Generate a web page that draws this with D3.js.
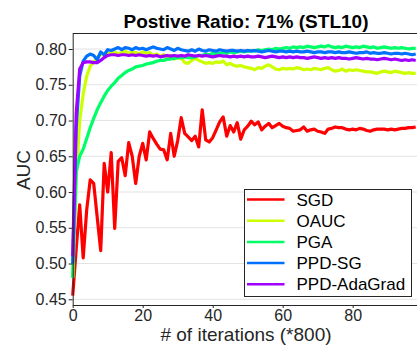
<!DOCTYPE html>
<html>
<head>
<meta charset="utf-8">
<script src="https://cdn.jsdelivr.net/npm/d3@7"></script>
<style>
  body { margin: 0; background: #fff; }
  svg { display: block; font-family: "Liberation Sans", Arial, sans-serif; }
</style>
</head>
<body>
<svg id="chart" width="417" height="347"></svg>
<script>
// values, one per iteration step (x = 0..98)
var sgd = [0.455,0.520,0.582,0.508,0.575,0.617,0.612,0.565,0.518,0.640,
  0.600,0.655,0.549,0.643,0.648,0.623,0.669,0.650,0.612,0.650,
  0.668,0.645,0.684,0.675,0.667,0.660,0.659,0.645,0.682,0.650,
  0.672,0.704,0.682,0.677,0.672,0.678,0.663,0.715,0.673,0.670,
  0.676,0.687,0.698,0.705,0.678,0.693,0.684,0.697,0.674,0.687,
  0.692,0.699,0.694,0.698,0.687,0.692,0.696,0.690,0.693,0.696,
  0.692,0.690,0.689,0.685,0.686,0.687,0.691,0.685,0.687,0.688,
  0.685,0.684,0.682,0.688,0.689,0.691,0.690,0.690,0.688,0.687,
  0.688,0.687,0.689,0.688,0.686,0.685,0.687,0.688,0.688,0.688,
  0.687,0.688,0.687,0.688,0.689,0.689,0.690,0.690,0.691];

var oauc = [0.480,0.620,0.700,0.737,0.762,0.776,0.782,0.788,0.793,0.791,
  0.795,0.794,0.796,0.793,0.795,0.797,0.794,0.796,0.795,0.793,
  0.796,0.794,0.795,0.791,0.793,0.790,0.792,0.789,0.791,0.786,
  0.788,0.787,0.781,0.780,0.784,0.787,0.784,0.782,0.780,0.781,
  0.780,0.782,0.781,0.783,0.778,0.780,0.777,0.776,0.777,0.775,
  0.774,0.773,0.771,0.774,0.773,0.776,0.778,0.775,0.772,0.771,
  0.773,0.772,0.773,0.772,0.774,0.773,0.771,0.772,0.771,0.773,
  0.772,0.771,0.773,0.774,0.771,0.769,0.770,0.772,0.769,0.771,
  0.770,0.771,0.770,0.769,0.768,0.768,0.767,0.766,0.768,0.769,
  0.768,0.767,0.769,0.768,0.767,0.766,0.767,0.766,0.766];

var pga = [0.480,0.628,0.650,0.660,0.675,0.690,0.703,0.715,0.725,0.734,
  0.742,0.748,0.753,0.759,0.763,0.767,0.770,0.772,0.775,0.776,
  0.777,0.779,0.780,0.781,0.783,0.784,0.784,0.786,0.786,0.787,
  0.788,0.788,0.789,0.788,0.788,0.789,0.791,0.791,0.793,0.792,
  0.794,0.793,0.794,0.795,0.794,0.796,0.795,0.796,0.797,0.796,
  0.797,0.798,0.797,0.799,0.798,0.799,0.800,0.799,0.801,0.800,
  0.801,0.802,0.801,0.803,0.802,0.803,0.802,0.804,0.803,0.802,
  0.803,0.804,0.803,0.805,0.803,0.802,0.803,0.802,0.804,0.803,
  0.802,0.803,0.802,0.804,0.803,0.802,0.803,0.801,0.802,0.803,
  0.802,0.801,0.802,0.801,0.802,0.801,0.800,0.801,0.801];

var ppdsg = [0.500,0.690,0.762,0.783,0.790,0.793,0.791,0.785,0.796,0.792,
  0.799,0.798,0.800,0.802,0.799,0.802,0.801,0.799,0.802,0.800,
  0.801,0.799,0.801,0.803,0.801,0.800,0.799,0.802,0.800,0.798,
  0.801,0.799,0.798,0.797,0.799,0.797,0.800,0.798,0.797,0.799,
  0.798,0.797,0.799,0.798,0.797,0.798,0.798,0.797,0.798,0.797,
  0.798,0.797,0.798,0.797,0.796,0.797,0.798,0.797,0.796,0.797,
  0.797,0.796,0.797,0.796,0.797,0.796,0.796,0.797,0.796,0.795,
  0.796,0.796,0.795,0.796,0.796,0.795,0.796,0.795,0.795,0.796,
  0.795,0.794,0.795,0.795,0.796,0.794,0.795,0.794,0.794,0.795,
  0.794,0.793,0.794,0.794,0.793,0.794,0.793,0.792,0.793];

var ppdada = [0.510,0.710,0.772,0.781,0.782,0.782,0.781,0.781,0.784,0.788,
  0.791,0.792,0.792,0.791,0.792,0.792,0.791,0.792,0.791,0.792,
  0.791,0.790,0.791,0.790,0.791,0.789,0.790,0.791,0.790,0.791,
  0.790,0.791,0.790,0.792,0.791,0.790,0.791,0.790,0.791,0.790,
  0.789,0.790,0.791,0.790,0.790,0.789,0.790,0.789,0.790,0.789,
  0.790,0.789,0.789,0.790,0.789,0.788,0.789,0.790,0.789,0.788,
  0.789,0.788,0.789,0.788,0.789,0.788,0.788,0.787,0.788,0.789,
  0.788,0.787,0.788,0.787,0.788,0.787,0.788,0.787,0.787,0.786,
  0.787,0.788,0.787,0.786,0.787,0.786,0.786,0.785,0.786,0.787,
  0.786,0.785,0.786,0.785,0.784,0.785,0.784,0.785,0.784];

var seriesNames = ["SGD", "OAUC", "PGA", "PPD-SG", "PPD-AdaGrad"];
var seriesColors = ["#ff0000", "#ccff00", "#00ff66", "#0070ff", "#a100ff"];
var xTicks = [0, 20, 40, 60, 80];
var yTicks = [0.45, 0.50, 0.55, 0.60, 0.65, 0.70, 0.75, 0.80];

var allSeries = [sgd, oauc, pga, ppdsg, ppdada];

var svg = d3.select("#chart");
var plotLeft = 72.7, plotTop = 33.5, plotW = 350, plotH = 271.5;
var ink = "#262626";

var x = d3.scaleLinear().domain([0, 100]).range([plotLeft, plotLeft + plotW]);
var y = d3.scaleLinear().domain([0.442, 0.8217]).range([plotTop + plotH, plotTop]);

// horizontal grid
svg.append("g")
    .selectAll("line")
    .data(yTicks)
    .enter()
    .append("line")
    .attr("x1", plotLeft)
    .attr("x2", plotLeft + plotW)
    .attr("y1", d => y(d))
    .attr("y2", d => y(d))
    .attr("stroke", "#e3e3e3")
    .attr("stroke-width", 1);

// lines
var line = d3.line()
    .x((d, i) => x(i))
    .y(d => y(d));

svg.append("g")
    .selectAll("path")
    .data(allSeries)
    .enter()
    .append("path")
    .attr("d", d => line(d))
    .attr("fill", "none")
    .attr("stroke", (d, i) => seriesColors[i])
    .attr("stroke-width", 3.2)
    .attr("stroke-linejoin", "round");

// axes
var xAxis = svg.append("g")
    .attr("transform", "translate(0," + (plotTop + plotH) + ")")
    .call(d3.axisBottom(x).tickValues(xTicks).tickSize(3).tickPadding(2).tickSizeOuter(0));
var yAxis = svg.append("g")
    .attr("transform", "translate(" + plotLeft + ",0)")
    .call(d3.axisLeft(y).tickValues(yTicks).tickFormat(d3.format(".2f")).tickSize(4).tickPadding(2).tickSizeOuter(0));

[xAxis, yAxis].forEach(function (g) {
    g.selectAll("text").style("font-size", "16px").attr("fill", ink).style("font-family", "Liberation Sans, Arial, sans-serif");
    g.selectAll("line").attr("stroke", ink);
    g.select(".domain").attr("stroke", ink);
});

// top frame line
svg.append("line")
    .attr("x1", plotLeft).attr("x2", plotLeft + plotW)
    .attr("y1", plotTop).attr("y2", plotTop)
    .attr("stroke", ink)
    .attr("stroke-width", 1);

// title and labels
svg.append("text")
    .attr("x", 246)
    .attr("y", 28)
    .attr("text-anchor", "middle")
    .attr("font-weight", "bold")
    .style("font-size", "19px")
    .attr("fill", "#000")
    .text("Postive Ratio: 71% (STL10)");

svg.append("text")
    .attr("x", 246)
    .attr("y", 341)
    .attr("text-anchor", "middle")
    .style("font-size", "19px")
    .attr("fill", ink)
    .text("# of iterations (*800)");

svg.append("text")
    .attr("transform", "translate(30,170) rotate(-90)")
    .attr("text-anchor", "middle")
    .style("font-size", "19px")
    .attr("fill", ink)
    .text("AUC");

// legend
var legend = svg.append("g");
legend.append("rect")
    .attr("x", 244.5)
    .attr("y", 189.5)
    .attr("width", 167)
    .attr("height", 107)
    .attr("fill", "#fff")
    .attr("stroke", ink)
    .attr("stroke-width", 1);

var rows = legend.selectAll("g.row")
    .data(seriesNames)
    .enter()
    .append("g")
    .attr("class", "row")
    .attr("transform", (d, i) => "translate(0," + (199.5 + i * 21.2) + ")");

rows.append("line")
    .attr("x1", 247)
    .attr("x2", 284.5)
    .attr("stroke", (d, i) => seriesColors[i])
    .attr("stroke-width", 2.5);

rows.append("text")
    .attr("x", 296.5)
    .attr("dy", "0.36em")
    .style("font-size", "17px")
    .attr("fill", "#000")
    .text(d => d);
</script>
</body>
</html>
